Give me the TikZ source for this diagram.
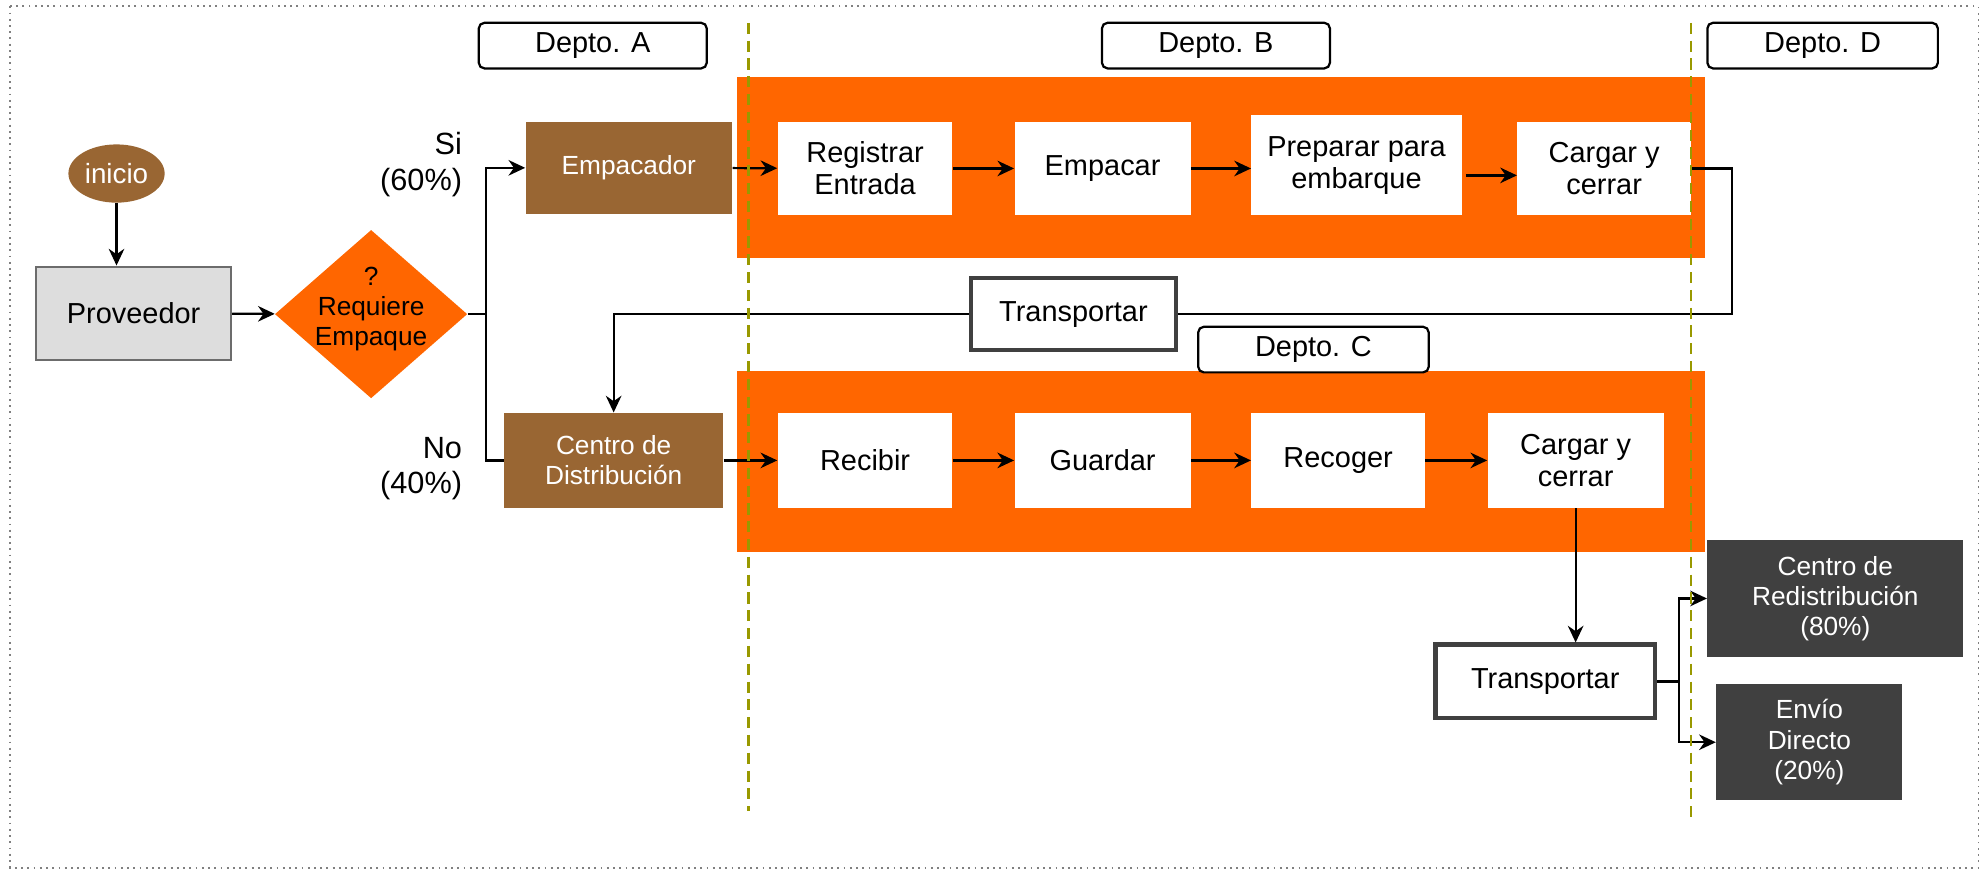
\documentclass[tikz,border=0pt]{standalone}
\usepackage{fontspec}
\setmainfont{Liberation Sans}
\usetikzlibrary{arrows.meta,shapes.geometric,calc}

\definecolor{naranja}{HTML}{FF6600}
\definecolor{cafe}{HTML}{996633}
\definecolor{oscuro}{HTML}{404040}
\definecolor{claro}{HTML}{DDDDDD}
\definecolor{oliva}{HTML}{999900}

\begin{document}
\begin{tikzpicture}[x=0.02cm, y=-0.02cm,
  paso/.style={fill=white, minimum width=2.76cm, minimum height=1.48cm, align=center, font=\fontsize{13}{14.5}\selectfont},
  cafebox/.style={fill=cafe, text=white, align=center, font=\fontsize{11.8}{13.4}\selectfont},
  oscbox/.style={fill=oscuro, text=white, align=center, font=\fontsize{11.8}{13.6}\selectfont},
  depto/.style={draw, line width=1pt, rounded corners=2.5pt, fill=white, minimum width=3.6cm, minimum height=0.72cm, font=\fontsize{13}{14}\selectfont},
  transp/.style={draw=oscuro, line width=2pt, fill=white, font=\fontsize{13}{14}\selectfont},
  rotulo/.style={align=right, anchor=east, font=\fontsize{13.8}{16}\selectfont},
  linea/.style={line width=1pt},
  >={Stealth[length=7.5pt,width=7pt]}
]
  \useasboundingbox (0,0) rectangle (1568,687);
  \draw[gray, dotted, line width=0.8pt] (8,5) rectangle (1562,685);

  % bandas de los departamentos B y C
  \fill[naranja] (582,61) rectangle (1346,204);
  \fill[naranja] (582,293) rectangle (1346,436);

  \node[depto] (dA) at (468,36) {Depto. A};
  \node[depto] (dB) at (960,36) {Depto. B};
  \node[depto, minimum width=3.64cm] (dC) at (1037,276) {Depto. C};
  \node[depto, minimum width=3.64cm] (dD) at (1439,36) {Depto. D};

  \node[ellipse, fill=cafe, text=white, minimum width=1.52cm, minimum height=0.92cm, inner sep=0pt,
        font=\fontsize{12.5}{14}\selectfont] (inicio) at (92,137) {inicio};
  \node[draw=gray!85!black, line width=1pt, fill=claro, minimum width=3.08cm, minimum height=1.48cm,
        font=\fontsize{13}{14}\selectfont] (prov) at (105.5,247.5) {Proveedor};
  \node[diamond, fill=naranja, minimum width=3.04cm, minimum height=2.66cm, inner sep=0pt] (dec) at (293,248) {};
  \node[align=center, font=\fontsize{11.8}{13.4}\selectfont] (decT) at (293,244) {?\\Requiere\\Empaque};

  \node[rotulo] (si) at (371,130) {Si\\(60\%)};
  \node[rotulo] (no) at (371,370) {No\\(40\%)};

  \node[cafebox, minimum width=3.26cm, minimum height=1.46cm] (emp) at (496.5,132.5) {Empacador};
  \node[cafebox, minimum width=3.46cm, minimum height=1.5cm] (cdist) at (484.5,363.5) {Centro de\\Distribución};

  % fila de arriba
  \node[paso] (reg) at (683,133) {Registrar\\Entrada};
  \node[paso, minimum width=2.78cm] (empc) at (870.5,133) {Empacar};
  \node[paso, minimum width=3.32cm, minimum height=1.58cm] (prep) at (1071,130.5) {Preparar para\\embarque};
  \node[paso, minimum width=2.74cm] (carg1) at (1266.5,133) {Cargar y\\cerrar};

  % fila de abajo
  \node[paso, minimum height=1.5cm] (rec) at (683,363.5) {Recibir};
  \node[paso, minimum width=2.78cm, minimum height=1.5cm] (guar) at (870.5,363.5) {Guardar};
  \node[paso, minimum width=2.74cm, minimum height=1.5cm] (recog) at (1056.5,363.5) {Recoger};
  \node[paso, minimum width=2.78cm, minimum height=1.5cm] (carg2) at (1244,363.5) {Cargar y\\cerrar};

  \node[transp, minimum width=3.24cm, minimum height=1.14cm] (tr1) at (847.5,248) {Transportar};
  \node[transp, minimum width=3.46cm, minimum height=1.16cm] (tr2) at (1220,538) {Transportar};

  \node[oscbox, minimum width=4.04cm, minimum height=1.86cm] (redis) at (1449,472.5) {Centro de\\Redistribución\\(80\%)};
  \node[oscbox, minimum width=2.94cm, minimum height=1.84cm] (envio) at (1428.5,586) {Envío\\Directo\\(20\%)};

  % conectores
  \draw[->, linea] (inicio.south) -- (inicio.south |- prov.north);
  \draw[->, linea] (prov) -- (dec);
  \coordinate (rama) at (384,248);
  \draw[linea] (dec.east) -- (rama);
  \draw[->, linea] (rama) |- (emp.west);
  \draw[linea] (rama) |- (cdist.west);

  \draw[->, linea] (emp) -- (reg);
  \draw[->, linea] (reg) -- (empc);
  \draw[->, linea] (empc.east) -- (empc.east -| prep.west);
  \coordinate (p1) at ($(prep.south east)!0.4!(prep.north east)+(3,0)$);
  \draw[->, linea] (p1) -- (p1 -| carg1.west);
  \draw[linea] (carg1.east) -- ++(32,0) |- (tr1.east);
  \draw[->, linea] (tr1.west) -| (cdist.north);

  \draw[->, linea] (cdist) -- (rec);
  \draw[->, linea] (rec) -- (guar);
  \draw[->, linea] (guar) -- (recog);
  \draw[->, linea] (recog) -- (carg2);
  \draw[->, linea] (carg2.south) -- (carg2.south |- tr2.north);

  \coordinate (rama2) at (1325.5,538);
  \draw[linea] (tr2.east) -- (rama2);
  \draw[->, linea] (rama2) |- (redis.west);
  \draw[->, linea] (rama2) |- (envio.west);

  % limites de departamentos
  \draw[oliva, line width=1pt, dash pattern=on 5pt off 3pt] (591,18) -- (591,640);
  \draw[oliva, line width=1pt, dash pattern=on 5pt off 3pt] (1335,18) -- (1335,646);
\end{tikzpicture}
\end{document}
